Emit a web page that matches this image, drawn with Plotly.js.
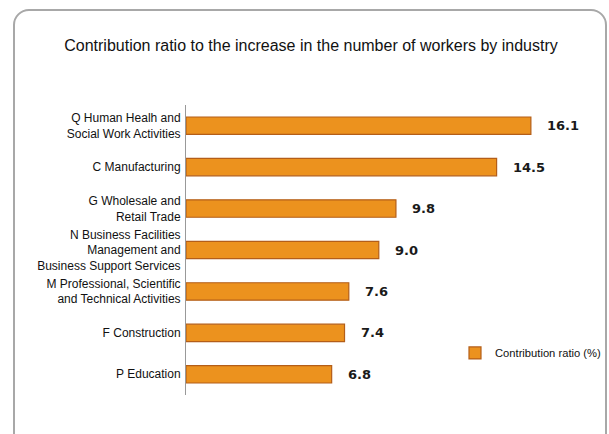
<!DOCTYPE html>
<html>
<head>
<meta charset="utf-8">
<script src="https://cdn.plot.ly/plotly-3.0.1.min.js"></script>
<style>
  html, body { margin: 0; padding: 0; background: #ffffff; overflow: hidden; }
  #frame { position: absolute; left: 13px; top: 9px; width: 594px; height: 450px;
           border: 2px solid #a8a8a8; border-radius: 16px; box-sizing: border-box; }
  #chart { position: absolute; left: 0; top: 0; width: 609px; height: 434px; }
</style>
</head>
<body>
<div id="frame"></div>
<div id="chart"></div>
<script>
const categories = [
  "Q Human Healh and<br>Social Work Activities",
  "C Manufacturing",
  "G Wholesale and<br>Retail Trade",
  "N Business Facilities<br>Management and<br>Business Support Services",
  "M Professional, Scientific<br>and Technical Activities",
  "F Construction",
  "P Education"
];
const values = [16.1, 14.5, 9.8, 9.0, 7.6, 7.4, 6.8];
const valueLabels = ["16.1", "14.5", "9.8", "9.0", "7.6", "7.4", "6.8"];
const seriesName = "Contribution ratio (%)";
const chartTitle = "Contribution ratio to the increase in the number of workers by industry";

const sans = "Liberation Sans, Arial, sans-serif";

const trace = {
  type: "bar",
  orientation: "h",
  y: categories,
  x: values,
  name: seriesName,
  width: 0.42,
  marker: { color: "#EC921E", line: { color: "#B45E18", width: 1.2 } },
  showlegend: true,
  hoverinfo: "x+y"
};

const annotations = values.map((v, i) => ({
  x: v, y: categories[i], xref: "x", yref: "y",
  text: valueLabels[i], showarrow: false,
  xanchor: "left", yanchor: "middle", xshift: 14, yshift: 0,
  font: { family: "DejaVu Sans, sans-serif", size: 13, color: "#1a1a1a", weight: "bold" }
}));

const layout = {
  width: 609, height: 434,
  paper_bgcolor: "rgba(0,0,0,0)",
  plot_bgcolor: "rgba(0,0,0,0)",
  margin: { l: 186, r: 16, t: 105, b: 39, autoexpand: false },
  title: {
    text: chartTitle,
    font: { family: sans, size: 16, color: "#111111" },
    x: 311 / 609, xref: "container", xanchor: "center",
    y: 1 - 45 / 434, yref: "container", yanchor: "middle"
  },
  xaxis: {
    range: [0, 19.0], visible: false, fixedrange: true
  },
  yaxis: {
    autorange: "reversed",
    showline: true, linecolor: "#999999", linewidth: 1,
    ticks: "", showgrid: false, zeroline: false,
    tickfont: { family: sans, size: 12, color: "#111111" },
    ticklabelstandoff: 2,
    fixedrange: true
  },
  showlegend: true,
  legend: {
    x: (455 - 186) / 407, xanchor: "left", y: 0.145, yanchor: "middle",
    bgcolor: "rgba(0,0,0,0)",
    font: { family: sans, size: 11.2, color: "#111111" },
    itemwidth: 30
  },
  annotations: annotations
};

Plotly.newPlot("chart", [trace], layout, { displayModeBar: false, staticPlot: true });
</script>
</body>
</html>
